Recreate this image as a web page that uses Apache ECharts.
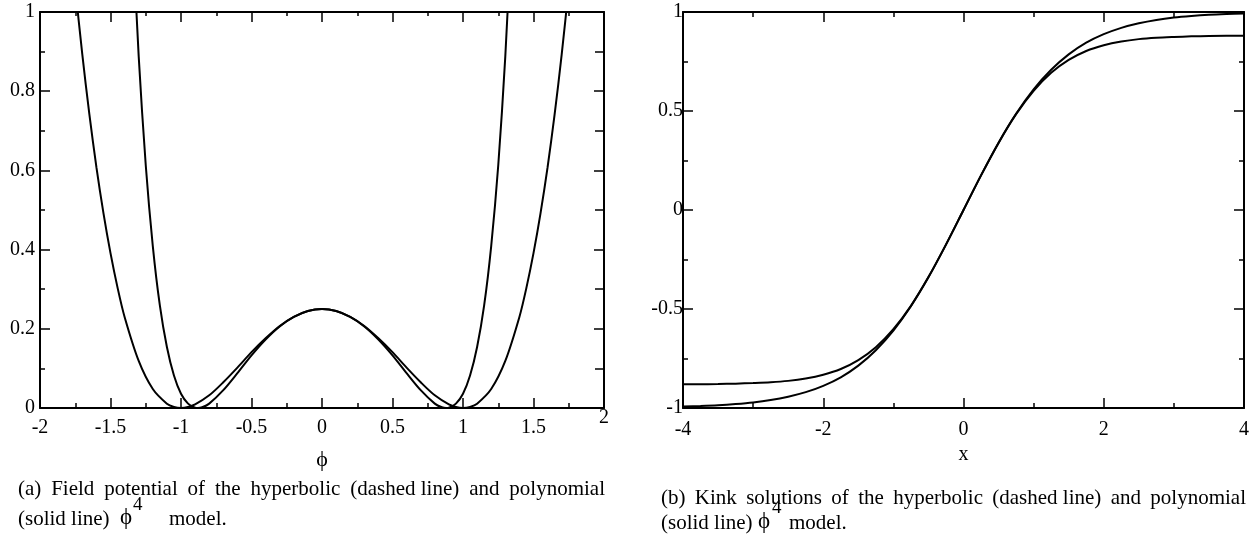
<!DOCTYPE html>
<html>
<head>
<meta charset="utf-8">
<script src="https://cdn.jsdelivr.net/npm/echarts@6/dist/echarts.min.js"></script>
<style>
  html, body { margin: 0; padding: 0; background: #fff; }
  #chart { width: 1254px; height: 543px; }
</style>
</head>
<body>
<div id="chart"></div>
<script>
// (a) field potential V(phi)
const phiPoly = [-1.8, -1.75, -1.7, -1.65, -1.6, -1.55, -1.5, -1.45, -1.4, -1.3, -1.2, -1.1, -1.05, -1.0, -0.95, -0.9, -0.8, -0.7, -0.6, -0.5, -0.4, -0.3, -0.2, -0.1, 0,
  0.1, 0.2, 0.3, 0.4, 0.5, 0.6, 0.7, 0.8, 0.9, 0.95, 1.0, 1.05, 1.1, 1.2, 1.3, 1.4, 1.45, 1.5, 1.55, 1.6, 1.65, 1.7, 1.75, 1.8];
const potPoly = [1.254, 1.063, 0.893, 0.742, 0.608, 0.492, 0.391, 0.304, 0.230, 0.119, 0.048, 0.011, 0.0026, 0, 0.0024, 0.009, 0.032, 0.065, 0.102, 0.141, 0.176, 0.207, 0.230, 0.245, 0.250,
  0.245, 0.230, 0.207, 0.176, 0.141, 0.102, 0.065, 0.032, 0.009, 0.0024, 0, 0.0026, 0.011, 0.048, 0.119, 0.230, 0.304, 0.391, 0.492, 0.608, 0.742, 0.893, 1.063, 1.254];
const phiHyp = [-1.35, -1.3, -1.25, -1.2, -1.15, -1.1, -1.05, -1.0, -0.95, -0.9, -0.88, -0.85, -0.8, -0.7, -0.6, -0.5, -0.4, -0.3, -0.2, -0.1, 0,
  0.1, 0.2, 0.3, 0.4, 0.5, 0.6, 0.7, 0.8, 0.85, 0.88, 0.9, 0.95, 1.0, 1.05, 1.1, 1.15, 1.2, 1.25, 1.3, 1.35];
const potHyp = [1.251, 0.888, 0.613, 0.409, 0.259, 0.154, 0.082, 0.036, 0.011, 0.0007, 0, 0.0018, 0.011, 0.045, 0.088, 0.133, 0.173, 0.206, 0.230, 0.245, 0.250,
  0.245, 0.230, 0.206, 0.173, 0.133, 0.088, 0.045, 0.011, 0.0018, 0, 0.0007, 0.011, 0.036, 0.082, 0.154, 0.259, 0.409, 0.613, 0.888, 1.251];

// (b) kink profiles phi(x)
const xKink = [-4, -3.75, -3.5, -3.25, -3, -2.75, -2.5, -2.25, -2, -1.75, -1.5, -1.25, -1, -0.75, -0.5, -0.25, 0,
  0.25, 0.5, 0.75, 1, 1.25, 1.5, 1.75, 2, 2.25, 2.5, 2.75, 3, 3.25, 3.5, 3.75, 4];
const kinkPoly = [-0.993, -0.990, -0.986, -0.980, -0.972, -0.960, -0.943, -0.920, -0.888, -0.845, -0.786, -0.708, -0.609, -0.486, -0.340, -0.175, 0,
  0.175, 0.340, 0.486, 0.609, 0.708, 0.786, 0.845, 0.888, 0.920, 0.943, 0.960, 0.972, 0.980, 0.986, 0.990, 0.993];
const kinkHyp = [-0.880, -0.880, -0.879, -0.877, -0.874, -0.870, -0.863, -0.851, -0.832, -0.803, -0.758, -0.693, -0.602, -0.484, -0.339, -0.175, 0,
  0.175, 0.339, 0.484, 0.602, 0.693, 0.758, 0.803, 0.832, 0.851, 0.863, 0.870, 0.874, 0.877, 0.879, 0.880, 0.880];

const capA = ['(a)', 'Field', 'potential', 'of', 'the', 'hyperbolic', '(dashed line)', 'and', 'polynomial'];
const capB = ['(b)', 'Kink', 'solutions', 'of', 'the', 'hyperbolic', '(dashed line)', 'and', 'polynomial'];

const SERIF = '"Liberation Serif", "Times New Roman", serif';
const PHI = 'ϕ';
const chart = echarts.init(document.getElementById('chart'));

const zip = (xs, ys) => xs.map((x, i) => [x, ys[i]]);

const measure = document.createElement('canvas').getContext('2d');
function textWidth(t, size) {
  measure.font = size + 'px ' + SERIF;
  return measure.measureText(t).width;
}

// spread words across [x0, x1] like a justified line
function justified(words, x0, x1, y, size) {
  const widths = words.map(w => textWidth(w, size));
  const gap = (x1 - x0 - widths.reduce((a, b) => a + b, 0)) / (words.length - 1);
  let x = x0;
  return words.map((w, i) => {
    const el = txt(w, x, y, size);
    x += widths[i] + gap;
    return el;
  });
}

function txt(t, x, y, size) {
  return { type: 'text', x: x, y: y, style: { text: t, fontSize: size, fontFamily: SERIF, fill: '#000', verticalAlign: 'middle' } };
}

function fmt(v) {
  return String(Math.round(v * 100) / 100);
}

const line = { color: '#000', width: 2 };
const tick = { color: '#000', width: 1.5 };

function frame(grid, min, max, step, side, opts) {
  return Object.assign({
    gridIndex: grid, type: 'value', position: side, min: min, max: max, interval: step,
    axisLine: { onZero: false, lineStyle: line },
    axisTick: { inside: true, length: 10, lineStyle: tick },
    minorTick: { show: true, splitNumber: 2, length: 5, lineStyle: tick },
    splitLine: { show: false },
    axisLabel: { show: false }
  }, opts);
}

const labelStyle = { color: '#000', fontFamily: SERIF, fontSize: 20 };

const option = {
  animation: false,
  backgroundColor: '#fff',
  grid: [
    { left: 40, top: 12, width: 564, height: 396 },
    { left: 683, top: 12, width: 561, height: 396 }
  ],
  xAxis: [
    frame(0, -2, 2, 0.5, 'bottom', {
      axisLabel: Object.assign({ margin: 10, formatter: v => v === 2 ? '' : fmt(v) }, labelStyle),
      name: PHI, nameLocation: 'middle', nameGap: 41,
      nameTextStyle: { color: '#000', fontFamily: SERIF, fontSize: 22 }
    }),
    frame(0, -2, 2, 0.5, 'top', { minorTick: { show: true, splitNumber: 2, length: 4, lineStyle: tick } }),
    frame(0, -2, 2, 0.5, 'bottom', {
      axisLine: { show: false }, axisTick: { show: false }, minorTick: { show: false },
      axisLabel: Object.assign({ margin: 0, formatter: v => v === 2 ? '2' : '' }, labelStyle)
    }),
    frame(1, -4, 4, 2, 'bottom', {
      axisLabel: Object.assign({ margin: 12, formatter: fmt }, labelStyle),
      name: 'x', nameLocation: 'middle', nameGap: 31,
      nameTextStyle: { color: '#000', fontFamily: SERIF, fontSize: 20 }
    }),
    frame(1, -4, 4, 2, 'top', {})
  ],
  yAxis: [
    frame(0, 0, 1, 0.2, 'left', { axisLabel: Object.assign({ margin: 5, formatter: fmt }, labelStyle) }),
    frame(0, 0, 1, 0.2, 'right', { minorTick: { show: true, splitNumber: 2, length: 9, lineStyle: tick } }),
    frame(1, -1, 1, 0.5, 'left', { axisLabel: Object.assign({ margin: 0, formatter: fmt }, labelStyle) }),
    frame(1, -1, 1, 0.5, 'right', {})
  ],
  series: [
    { type: 'line', xAxisIndex: 0, yAxisIndex: 0, data: zip(phiPoly, potPoly) },
    { type: 'line', xAxisIndex: 0, yAxisIndex: 0, data: zip(phiHyp, potHyp) },
    { type: 'line', xAxisIndex: 3, yAxisIndex: 2, data: zip(xKink, kinkPoly) },
    { type: 'line', xAxisIndex: 3, yAxisIndex: 2, data: zip(xKink, kinkHyp) }
  ].map(s => Object.assign(s, {
    smooth: 0.3, showSymbol: false, symbol: 'none', clip: true,
    lineStyle: { color: '#000', width: 2 }
  })),
  graphic: [].concat(
    justified(capA, 18, 605, 489, 21),
    [txt('(solid line)', 18, 519, 21), txt(PHI, 120, 518, 23), txt('4', 133, 505, 19), txt('model.', 169, 519, 21)],
    justified(capB, 661, 1246, 498, 21),
    [txt('(solid line)', 661, 523, 21), txt(PHI, 758, 522, 23), txt('4', 772, 508, 19), txt('model.', 789, 523, 21)]
  )
};

chart.setOption(option);
</script>
</body>
</html>
